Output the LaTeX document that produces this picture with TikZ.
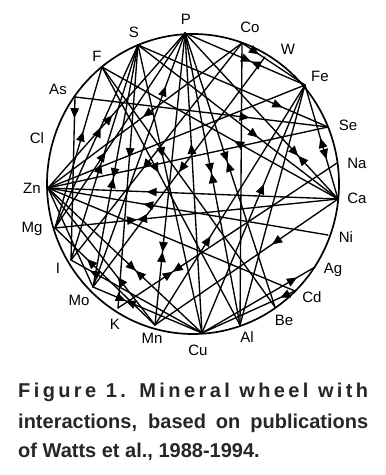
\documentclass[tikz,border=0pt]{standalone}
\usepackage{fontspec}
\setmainfont{Liberation Sans}
\usetikzlibrary{arrows.meta,decorations.markings}
\definecolor{captiongray}{HTML}{262626}
\tikzset{
  wt/.tip={Triangle[length=10pt,width=8.5pt]},
  wire/.style={line width=1.35pt, line cap=round},
  rim/.style={line width=1.7pt},
  fwd/.style={postaction={decorate,decoration={markings,mark=at position #1 with {\arrow{wt}}}}},
  bwd/.style={postaction={decorate,decoration={markings,mark=at position #1 with {\arrowreversed{wt}}}}},
  meet/.style={fwd=#1,bwd=#1},
  elem/.style={font=\fontsize{15}{15}\selectfont, inner sep=0pt},
  caption/.style={font=\fontsize{20}{24}\selectfont\bfseries, text=captiongray, inner sep=0pt, anchor=base west},
}
\begin{document}
\begin{tikzpicture}[x=1pt,y=-1pt]
\useasboundingbox (0,0) rectangle (386,475);

% points on the wheel
\coordinate (P)  at (185,33);
\coordinate (S)  at (138,45);
\coordinate (F)  at (102,67);
\coordinate (As) at (75,97);
\coordinate (Zn) at (48,188);
\coordinate (Mg) at (55,228);
\coordinate (I)  at (71,260);
\coordinate (Mo) at (93,287);
\coordinate (K)  at (118,308);
\coordinate (Mn) at (155,325);
\coordinate (Cu) at (202,333);
\coordinate (Al) at (240,325);
\coordinate (Be) at (275,307);
\coordinate (Cd) at (295,291);
\coordinate (Ag) at (315,267);
\coordinate (Ni) at (328,235);
\coordinate (Ca) at (338,199);
\coordinate (Na) at (337,163);
\coordinate (Se) at (328,127);
\coordinate (Fe) at (305,85);
\coordinate (W)  at (265,57);
\coordinate (Co) at (242,43);

% the wheel
\draw[rim] (193,184) ellipse [x radius=146, y radius=150];

% element labels
\node[elem] (lP)  at (186,19)  {P};
\node[elem] (lS)  at (134,32)  {S};
\node[elem] (lF)  at (97,56)   {F};
\node[elem] (lAs) at (58,89)   {As};
\node[elem] (lCl) at (37,138)  {Cl};
\node[elem] (lZn) at (32,188)  {Zn};
\node[elem] (lMg) at (32,229)  {Mg};
\node[elem] (lI)  at (58,268)  {I};
\node[elem] (lMo) at (79,300)  {Mo};
\node[elem] (lK)  at (115,324) {K};
\node[elem] (lMn) at (152,338) {Mn};
\node[elem] (lCu) at (198,350) {Cu};
\node[elem] (lAl) at (247,337) {Al};
\node[elem] (lBe) at (284,320) {Be};
\node[elem] (lCd) at (312,297) {Cd};
\node[elem] (lAg) at (333,270) {Ag};
\node[elem] (lNi) at (346,237) {Ni};
\node[elem] (lCa) at (357,198) {Ca};
\node[elem] (lNa) at (357,163) {Na};
\node[elem] (lSe) at (348,125) {Se};
\node[elem] (lFe) at (320,76)  {Fe};
\node[elem] (lW)  at (288,49)  {W};
\node[elem] (lCo) at (250,27)  {Co};

% interactions from P
\draw[wire, fwd=0.47] (Zn) -- (P);
\draw[wire, fwd=0.39] (Mg) -- (P);
\draw[wire, fwd=0.79] (Mo) -- (P);
\draw[wire, meet=0.75] (P) -- (Mn);
\draw[wire, fwd=0.63] (Cu) -- (P);
\draw[wire, meet=0.48] (P) -- (Al);
\draw[wire, meet=0.47] (P) -- (Be);
\draw[wire, meet=0.74] (P) -- (Ca);
\draw[wire, meet=0.55] (P) -- (Fe);

% interactions from S
\draw[wire, fwd=0.55] (Mg) -- (S);
\draw[wire, fwd=0.45] (I) -- (S);
\draw[wire, meet=0.55] (S) -- (Mo);
\draw[wire, fwd=0.43] (S) -- (K);
\draw[wire, fwd=0.39] (S) -- (Cu);
\draw[wire, fwd=0.60] (S) -- (Ca);
\draw[wire, fwd=0.76] (S) -- (Se);

% interactions from F and As
\draw[wire, fwd=0.60] (Mg) -- (F);
\draw[wire, fwd=0.41] (F) -- (Al);
\draw[wire] (F) -- (Be);
\draw[wire, fwd=0.44] (Ca) -- (F);
\draw[wire, fwd=0.69] (As) -- (Se);
\draw[wire, fwd=0.13] (As) -- (I);

% interactions from Zn
\draw[wire, fwd=0.51] (Co) -- (Zn);
\draw[wire] (Zn) -- (Fe);
\draw[wire] (Zn) -- (Se);
\draw[wire, fwd=0.66] (Ca) -- (Zn);
\draw[wire, fwd=0.66] (Ni) -- (Zn);
\draw[wire] (Zn) -- (Mo);
\draw[wire, fwd=0.35] (Mn) -- (Zn);
\draw[wire, meet=0.57] (Zn) -- (Cu);
\draw[wire] (Zn) -- (Cd);

% interactions from Mg, I, Mo, K
\draw[wire, meet=0.29] (Mg) -- (Ca);
\draw[wire, fwd=0.68] (Mn) -- (Mg);
\draw[wire, fwd=0.58] (Co) -- (I);
\draw[wire, fwd=0.855] (Cu) -- (I);
\draw[wire, fwd=0.50] (W) -- (Mo);
\draw[wire, meet=0.30] (Mo) -- (Cu);
\draw[wire, meet=0.25] (K) -- (Na);

% interactions from Mn and Cu
\draw[wire, fwd=0.37] (Mn) -- (Fe);
\draw[wire, fwd=0.36] (Ca) -- (Mn);
\draw[wire, fwd=0.60] (Cu) -- (Fe);
\draw[wire, fwd=0.84] (Cu) -- (Ag);
\draw[wire, fwd=0.16] (Cd) -- (Cu);

% interactions from Al, Fe, Co
\draw[wire] (Co) -- (Al);
\draw[wire] (Al) -- (Fe);
\draw[wire, fwd=0.65, bwd=0.465] (Fe) -- (Ca);
\draw[wire, fwd=0.27] (Co) -- (Fe);

% caption
\node[caption] (cap1) at (18,397) {\makebox[350pt][s]{\addfontfeature{LetterSpace=17}Figure 1. Mineral wheel with}};
\node[caption] (cap2) at (18,428) {\makebox[350pt][s]{interactions, based on publications}};
\node[caption] (cap3) at (18,457) {of Watts et al., 1988-1994.};
\end{tikzpicture}
\end{document}
